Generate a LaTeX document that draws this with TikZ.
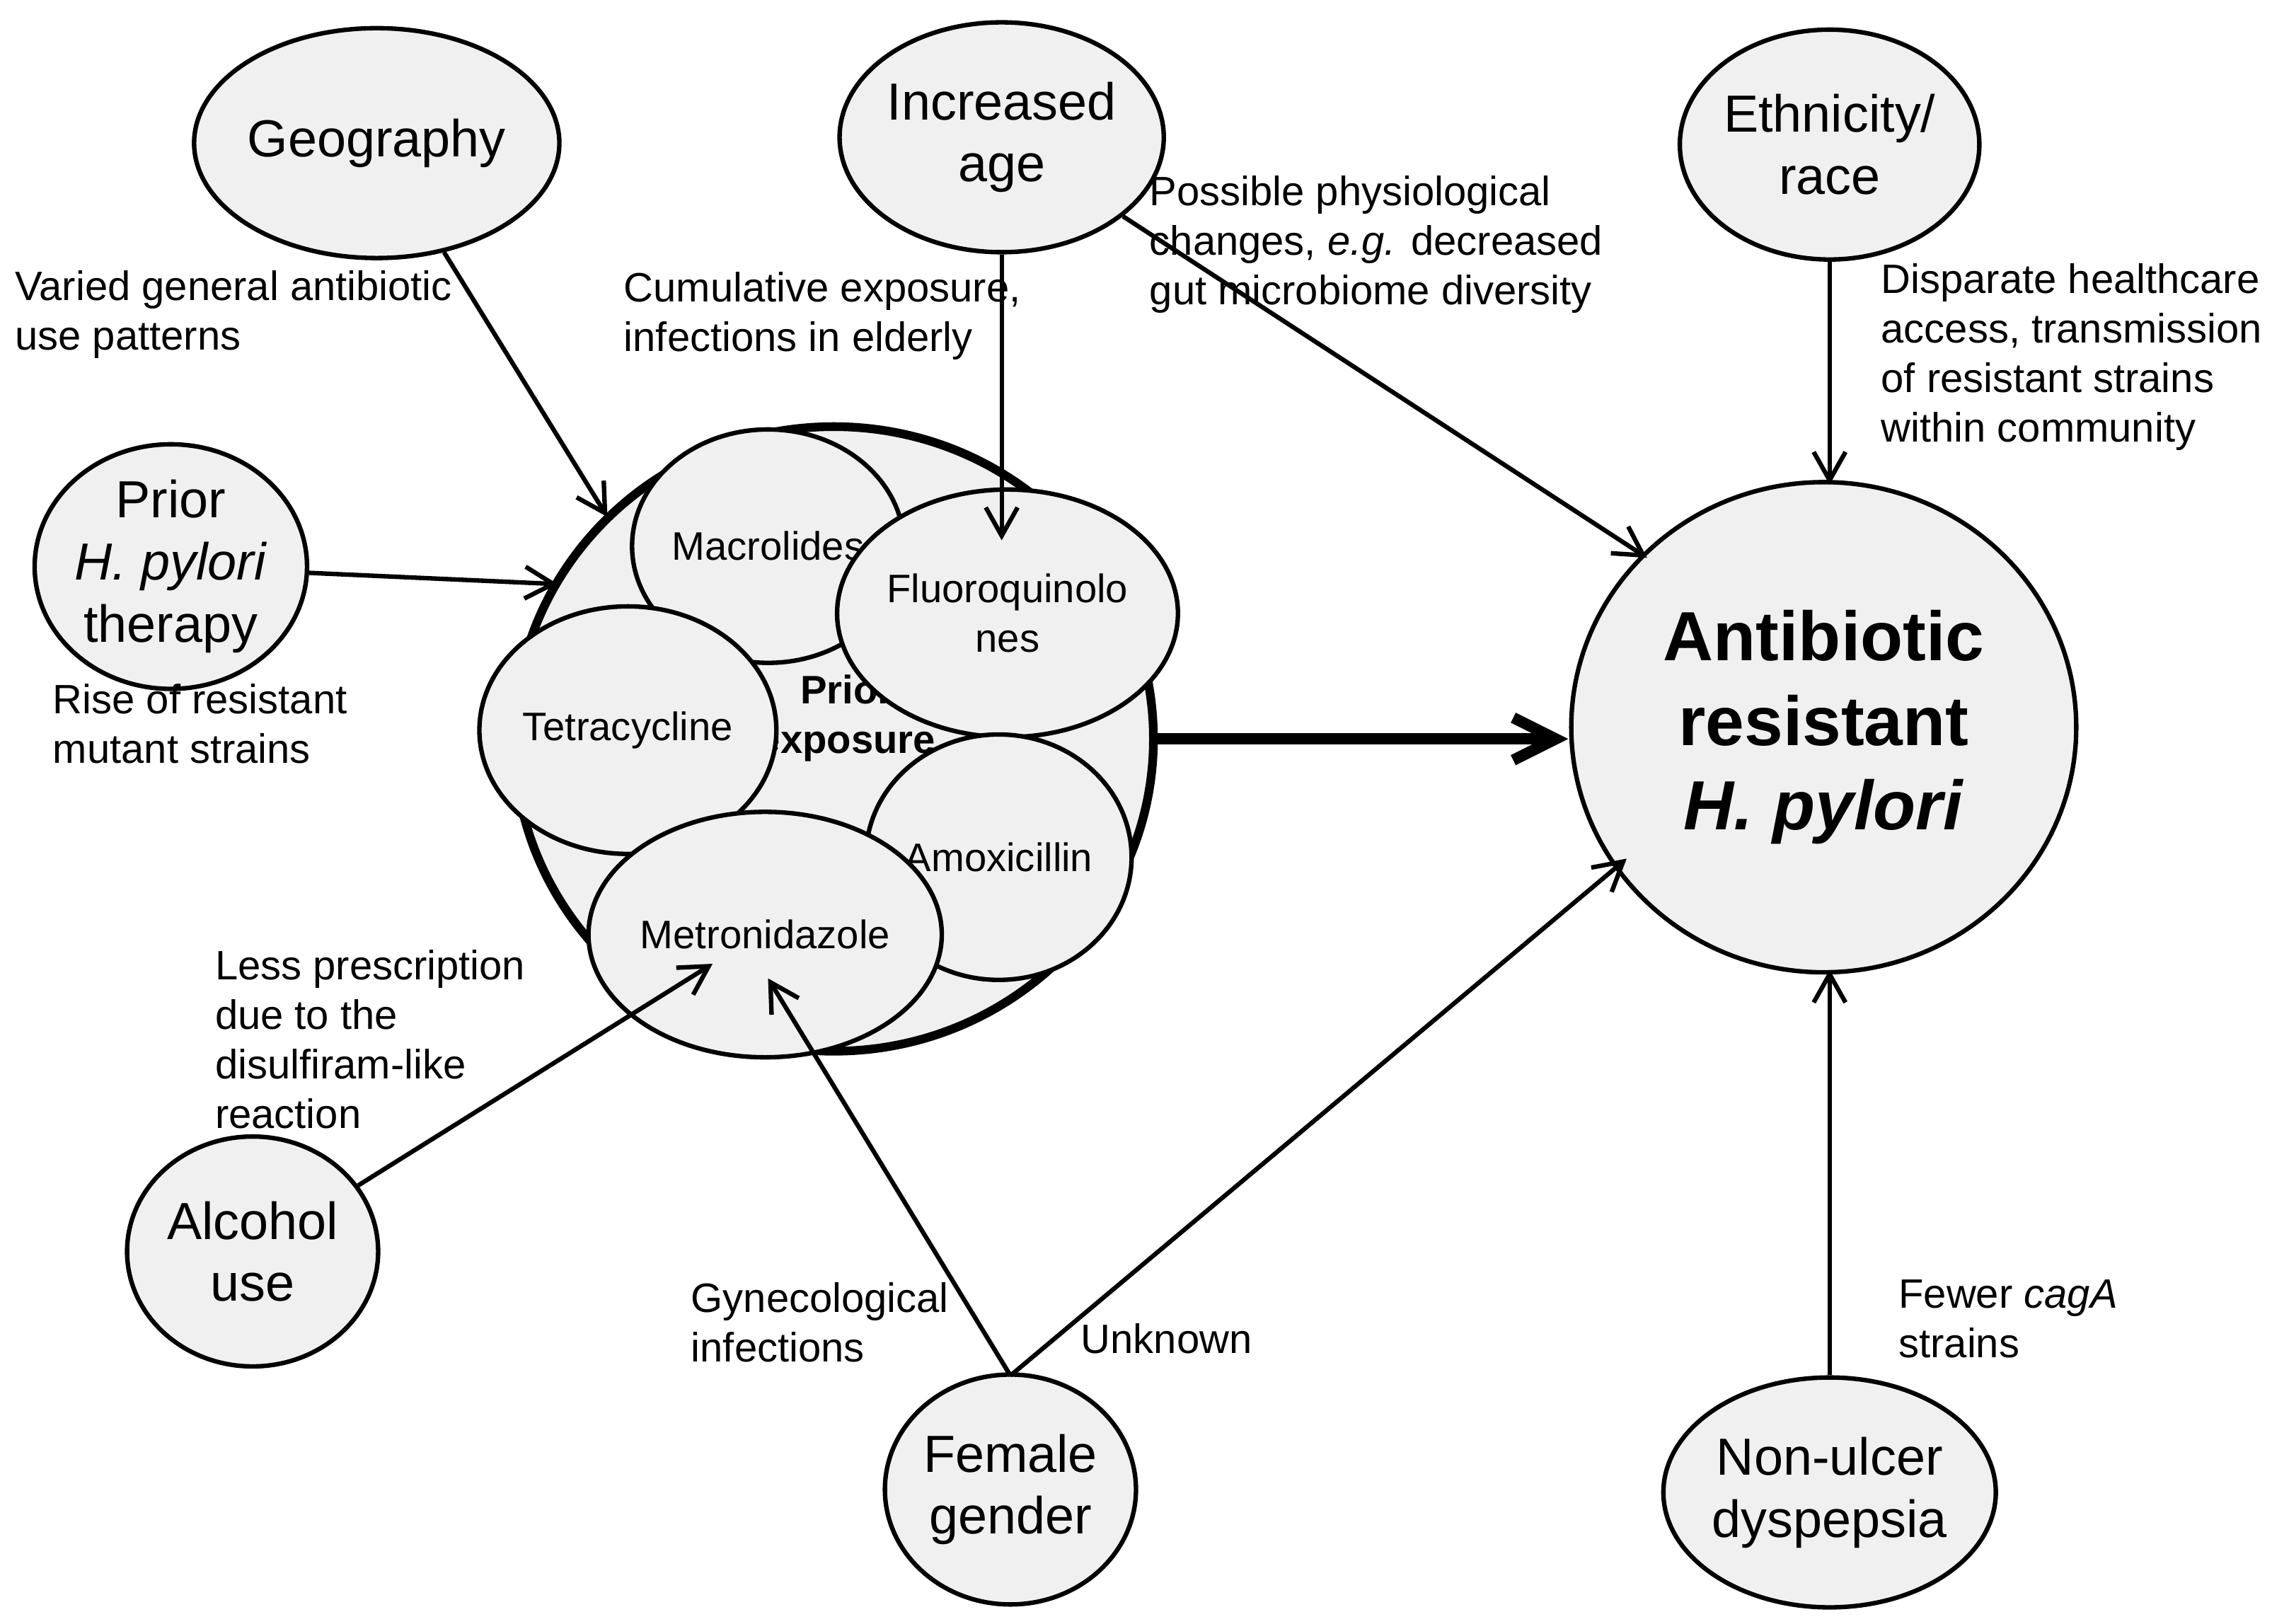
\documentclass[tikz,border=0pt]{standalone}
\usepackage{fontspec}
\setmainfont{Liberation Sans}
\usetikzlibrary{shapes.geometric,arrows.meta}

\begin{document}
\begin{tikzpicture}[
  x=0.02064cm, y=-0.02064cm,
  fnode/.style={ellipse, draw=black, fill=black!6, line width=1.8pt, inner sep=0pt,
    minimum width=3.55cm, minimum height=3.25cm, align=center,
    font=\fontsize{21}{25}\selectfont},
  dnode/.style={ellipse, draw=black, fill=black!6, line width=1.8pt, inner sep=0pt,
    align=center, font=\fontsize{16}{20}\selectfont},
  lbl/.style={anchor=north west, align=left, inner sep=0pt,
    font=\fontsize{16.5}{20}\selectfont},
  arw/.style={-{Straight Barb[length=4mm,width=4.5mm]}, line width=1.8pt}
  ]
\useasboundingbox (0,0) rectangle (1556,1112);

% outer factors
\node [fnode] (geo) at (258,98) {Geography};
\node [fnode] (age) at (686,94) {Increased\\age};
\node [fnode] (eth) at (1253,99) {Ethnicity/\\race};
\node [fnode] (ther) at (117,388) {Prior\\\textit{H. pylori}\\therapy};
\node [fnode] (alc) at (173,857) {Alcohol\\use};
\node [fnode] (fem) at (692,1020) {Female\\gender};
\node [fnode] (ulc) at (1253,1022) {Non-ulcer\\dyspepsia};

% prior exposure
\node [ellipse, draw=black, fill=black!6, line width=3.5pt, minimum width=9.04cm,
  minimum height=8.83cm] (prior) at (571,506) {};
\node [font=\fontsize{16}{20}\selectfont\bfseries, align=center] (ptxt) at (580,492) {Prior\\exposure};
\node [dnode, minimum width=3.3cm, minimum height=3.3cm] (mac) at (526,374) {Macrolides};
\node [dnode, minimum width=3.55cm, minimum height=3.5cm] (flu) at (690,420) {Fluoroquinolo\\nes};
\node [dnode, minimum width=3.55cm, minimum height=3.5cm] (tet) at (430,500) {Tetracycline};
\node [dnode, minimum width=3.47cm, minimum height=3.47cm] (amo) at (684,587) {Amoxicillin};
\node [dnode, minimum width=3.47cm, minimum height=3.47cm] (met) at (524,640) {Metronidazole};

% outcome
\node [ellipse, draw=black, fill=black!6, line width=1.8pt, minimum width=7.14cm,
  minimum height=6.93cm, align=center, font=\fontsize{28}{34}\selectfont\bfseries]
  (res) at (1249,498) {Antibiotic\\resistant\\\textit{H. pylori}};

% anchor points
\coordinate (geoT) at (416,354);
\coordinate (therT) at (382,400);
\coordinate (ageT) at (686,370);
\coordinate (ageR) at (1128,382);
\coordinate (ethT) at (1253,332);
\coordinate (alcT) at (488,660);
\coordinate (femT) at (526,670);
\coordinate (femR) at (1114,588);
\coordinate (femS) at (692,942);
\coordinate (ulcT) at (1253,664);
\coordinate (resL) at (1074,506);

\draw [arw] (geo) -- (geoT);
\draw [arw] (ther) -- (therT);
\draw [arw] (age.south) -- (ageT);
\draw [arw] (age) -- (ageR);
\draw [arw] (eth) -- (ethT);
\draw [arw] (alc) -- (alcT);
\draw [arw] (femS) -- (femT);
\draw [arw] (femS) -- (femR);
\draw [arw] (ulc) -- (ulcT);
\draw [-{Straight Barb[length=6mm,width=6mm]}, line width=4.5pt] (prior.east) -- (resL);

% labels
\node [lbl] (l1) at (10,185) {Varied general antibiotic\\use patterns};
\node [lbl] (l2) at (427,186) {Cumulative exposure,\\infections in elderly};
\node [lbl] (l3) at (787,120) {Possible physiological\\changes, \textit{e.g.} decreased\\gut microbiome diversity};
\node [lbl] (l4) at (1288,180) {Disparate healthcare\\access, transmission\\of resistant strains\\within community};
\node [lbl] (l5) at (36,468) {Rise of resistant\\mutant strains};
\node [lbl] (l6) at (147,650) {Less prescription\\due to the\\disulfiram-like\\reaction};
\node [lbl] (l7) at (473,878) {Gynecological\\infections};
\node [lbl] (l8) at (740,906) {Unknown};
\node [lbl] (l9) at (1300,876) {Fewer \textit{cagA}\\strains};
\end{tikzpicture}
\end{document}
